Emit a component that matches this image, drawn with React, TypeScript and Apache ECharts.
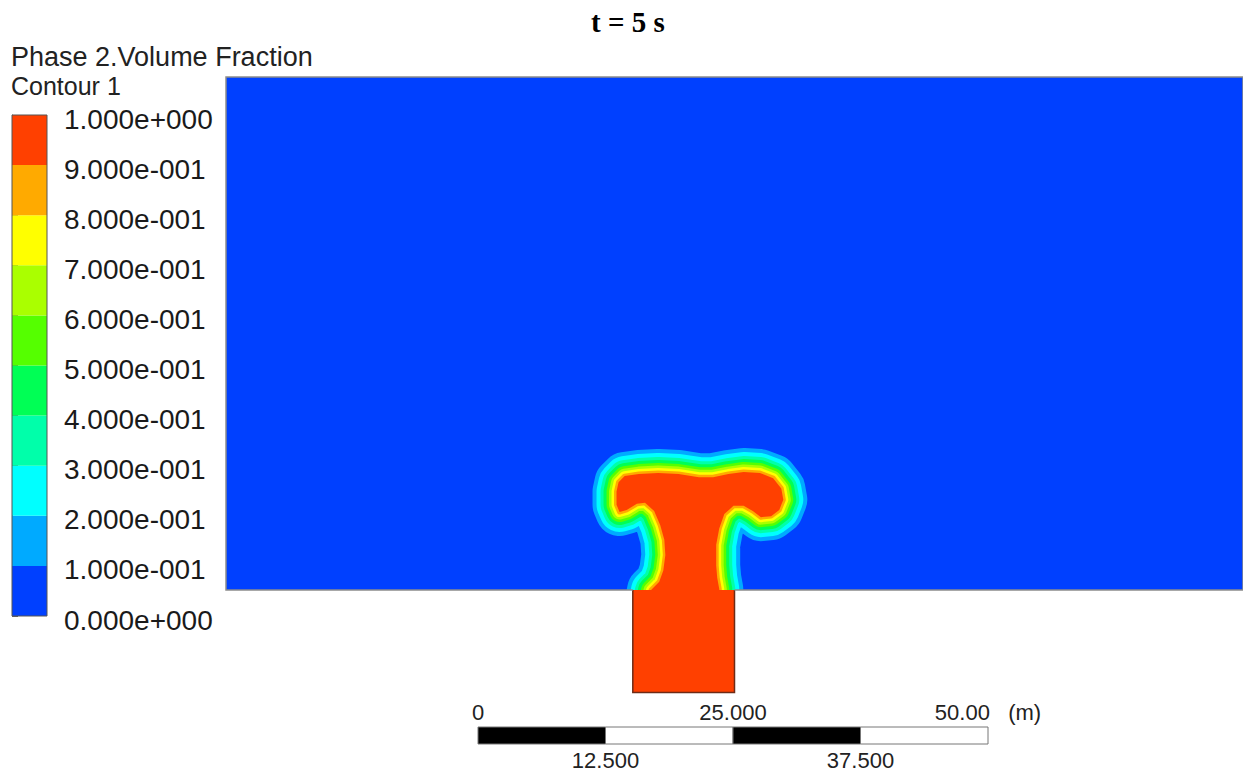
import React, { useEffect, useRef } from "react";
import * as echarts from "echarts";

// ---- texts ----
const TITLE = "t = 5 s";
const LEGEND_TITLE = "Phase 2.Volume Fraction";
const LEGEND_SUBTITLE = "Contour 1";

// ---- contour levels & colours ----
const LEVELS = [0, 0.1, 0.2, 0.3, 0.4, 0.5, 0.6, 0.7, 0.8, 0.9, 1.0];
const BAND_COLORS = [
  "#0040ff", "#00aaff", "#00ffff", "#00ffaa", "#00ff55",
  "#55ff00", "#aaff00", "#ffff00", "#ffaa00", "#ff4000",
];

// ---- geometry (metres) ----
const DOMAIN_X = [0, 100];
const DOMAIN_Y = [0, 50];
const STEM_X = [40, 50];
const STEM_DEPTH = 10;

// 0.9 iso-line of the phase-2 plume (metres)
const CORE_X = [
  41.4, 41.8, 42.6, 43.0, 43.2, 43.1, 42.7, 42.1, 41.2, 40.4,
  39.4, 38.7, 38.4, 38.4, 38.6, 39.2, 40.6, 42.5, 44.5, 46.5,
  47.9, 49.4, 50.9, 52.5, 53.8, 54.6, 54.8, 54.4, 53.6, 52.6,
  51.8, 50.9, 49.9, 49.0, 48.5, 48.2, 48.2, 48.3, 48.5, 48.6,
];
const CORE_Y = [
  -2.0, 0.0, 0.8, 1.9, 3.4, 4.9, 6.3, 7.7, 8.5, 8.4,
  7.8, 7.6, 8.3, 9.6, 10.5, 11.1, 11.3, 11.4, 11.3, 11.0,
  11.0, 11.3, 11.5, 11.4, 10.9, 9.9, 8.8, 7.8, 7.2, 7.1,
  7.7, 8.2, 8.2, 7.4, 6.0, 4.4, 2.4, 1.2, 0.1, -2.0,
];

// ---- scale bar ----
const SCALE_EDGES = [0, 12.5, 25, 37.5, 50];
const SCALE_COLORS = ["#000000", "#ffffff", "#000000", "#ffffff"];
const SCALE_TOP_VALUES = [0, 25, 50];
const SCALE_TOP_LABELS = ["0", "25.000", "50.00   (m)"];
const SCALE_BOTTOM_VALUES = [12.5, 37.5];
const SCALE_BOTTOM_LABELS = ["12.500", "37.500"];

const fmtExp = (v: number) => {
  const s = v.toExponential(3);
  const [m, e] = s.split("e");
  const n = parseInt(e, 10);
  return m + "e" + (n < 0 ? "-" : "+") + String(Math.abs(n)).padStart(3, "0");
};

const findLabel = (vals: number[], labels: string[], v: number) => {
  const i = vals.findIndex((x) => Math.abs(x - v) < 1e-6);
  return i >= 0 ? labels[i] : "";
};

export default function App() {
  const ref = useRef<HTMLDivElement>(null);

  useEffect(() => {
    if (!ref.current) return;
    const chart = echarts.init(ref.current, null, { renderer: "svg" });

    // distance (px) that each colour band reaches outside the 0.9 iso-line
    const bandReach = [24, 20, 16, 13, 10, 7.5, 5, 2.5];

    const sans = "Liberation Sans, Arial, sans-serif";

    const option: any = {
      animation: false,
      backgroundColor: "#ffffff",
      title: [
        {
          text: TITLE,
          left: 591,
          top: 7,
          padding: 0,
          textStyle: { fontFamily: "Liberation Serif, Times New Roman, serif", fontWeight: "bold", fontSize: 29, color: "#000" },
        },
        {
          text: LEGEND_TITLE,
          left: 11,
          top: 43,
          padding: 0,
          textStyle: { fontFamily: sans, fontWeight: "normal", fontSize: 27, lineHeight: 27, color: "#222" },
        },
        {
          text: LEGEND_SUBTITLE,
          left: 11,
          top: 73,
          padding: 0,
          textStyle: { fontFamily: sans, fontWeight: "normal", fontSize: 25, lineHeight: 25, color: "#222" },
        },
      ],
      grid: [
        { left: 226, top: 77, width: 1020, height: 513, show: true, backgroundColor: BAND_COLORS[0], borderWidth: 0 },
        { left: 12, top: 115, width: 35, height: 501, show: false },
        { left: 478, top: 727, width: 510, height: 17, show: false },
      ],
      xAxis: [
        { gridIndex: 0, type: "value", min: DOMAIN_X[0], max: DOMAIN_X[1], show: false },
        { gridIndex: 1, type: "value", min: 0, max: 1, show: false },
        {
          gridIndex: 2, type: "value", min: 0, max: 50, interval: 25, position: "top",
          axisLine: { show: false }, axisTick: { show: false }, splitLine: { show: false },
          axisLabel: {
            show: true, margin: 4, showMinLabel: true, showMaxLabel: true,
            fontFamily: sans, fontSize: 22, color: "#222",
            formatter: (v: number) => findLabel(SCALE_TOP_VALUES, SCALE_TOP_LABELS, v),
          },
        },
        {
          gridIndex: 2, type: "value", min: 0, max: 50, interval: 12.5, position: "bottom",
          axisLine: { show: false }, axisTick: { show: false }, splitLine: { show: false },
          axisLabel: {
            show: true, margin: 5, fontFamily: sans, fontSize: 22, color: "#222",
            formatter: (v: number) => findLabel(SCALE_BOTTOM_VALUES, SCALE_BOTTOM_LABELS, v),
          },
        },
      ],
      yAxis: [
        { gridIndex: 0, type: "value", min: DOMAIN_Y[0], max: DOMAIN_Y[1], show: false },
        {
          gridIndex: 1, type: "value", min: 0, max: 1, interval: 0.1, position: "right",
          axisLine: { show: true, lineStyle: { color: "#666", width: 1 } },
          axisTick: { show: true, inside: false, length: 6, lineStyle: { color: "#666" } },
          splitLine: { show: false },
          axisLabel: {
            show: true, margin: 17, fontFamily: sans, fontSize: 28, color: "#1a1a1a",
            verticalAlign: "top", lineHeight: 8,
            formatter: (v: number) => fmtExp(v),
          },
        },
        { gridIndex: 2, type: "value", min: 0, max: 1, show: false },
      ],
      series: [
        // plume bands (clipped to fluid domain)
        {
          type: "custom",
          coordinateSystem: "cartesian2d",
          xAxisIndex: 0,
          yAxisIndex: 0,
          clip: true,
          silent: true,
          data: [[CORE_X[0], CORE_Y[0]]],
          renderItem: (_p: any, api: any) => {
            const pts = CORE_X.map((x, i) => api.coord([x, CORE_Y[i]]));
            const children: any[] = bandReach.map((r, k) => ({
              type: "polyline",
              shape: { points: pts },
              style: { stroke: BAND_COLORS[k + 1], lineWidth: 2 * r, fill: null, lineJoin: "round", lineCap: "round" },
            }));
            children.push({ type: "polygon", shape: { points: pts }, style: { fill: BAND_COLORS[9], stroke: null } });
            return { type: "group", children };
          },
        },
        // inlet stem
        {
          type: "custom",
          coordinateSystem: "cartesian2d",
          xAxisIndex: 0,
          yAxisIndex: 0,
          clip: false,
          silent: true,
          data: [[STEM_X[0], -STEM_DEPTH, STEM_X[1], 0]],
          renderItem: (_p: any, api: any) => {
            const a = api.coord([api.value(0), api.value(3)]);
            const b = api.coord([api.value(2), api.value(1)]);
            return {
              type: "group",
              children: [
                { type: "rect", shape: { x: a[0], y: a[1], width: b[0] - a[0], height: b[1] - a[1] }, style: { fill: BAND_COLORS[9] } },
                {
                  type: "polyline",
                  shape: { points: [[a[0], a[1]], [a[0], b[1]], [b[0], b[1]], [b[0], a[1]]] },
                  style: { stroke: "#6e2b16", lineWidth: 1.5, fill: null },
                },
              ],
            };
          },
        },
        // domain outline
        {
          type: "custom",
          coordinateSystem: "cartesian2d",
          xAxisIndex: 0,
          yAxisIndex: 0,
          clip: false,
          silent: true,
          data: [[DOMAIN_X[0], DOMAIN_Y[0]]],
          renderItem: (_p: any, api: any) => {
            const pts = [
              [STEM_X[0], DOMAIN_Y[0]],
              [DOMAIN_X[0], DOMAIN_Y[0]],
              [DOMAIN_X[0], DOMAIN_Y[1]],
              [DOMAIN_X[1], DOMAIN_Y[1]],
              [DOMAIN_X[1], DOMAIN_Y[0]],
              [STEM_X[1], DOMAIN_Y[0]],
            ].map((p) => api.coord(p));
            return { type: "polyline", shape: { points: pts }, style: { stroke: "#8c8c8c", lineWidth: 1.5, fill: null } };
          },
        },
        // legend colour bar
        {
          type: "custom",
          coordinateSystem: "cartesian2d",
          xAxisIndex: 1,
          yAxisIndex: 1,
          silent: true,
          data: LEVELS.slice(0, -1).map((lo, i) => [i, lo, LEVELS[i + 1]]),
          renderItem: (_p: any, api: any) => {
            const i = api.value(0);
            const a = api.coord([0, api.value(2)]);
            const b = api.coord([1, api.value(1)]);
            return {
              type: "rect",
              shape: { x: a[0], y: a[1], width: b[0] - a[0], height: b[1] - a[1] },
              style: { fill: BAND_COLORS[i], stroke: null },
            };
          },
        },
        {
          type: "custom",
          coordinateSystem: "cartesian2d",
          xAxisIndex: 1,
          yAxisIndex: 1,
          silent: true,
          z: 5,
          data: [[0, LEVELS[0], 1, LEVELS[LEVELS.length - 1]]],
          renderItem: (_p: any, api: any) => {
            const a = api.coord([api.value(0), api.value(3)]);
            const b = api.coord([api.value(2), api.value(1)]);
            return {
              type: "rect",
              shape: { x: a[0], y: a[1], width: b[0] - a[0], height: b[1] - a[1] },
              style: { fill: null, stroke: "#555", lineWidth: 1 },
            };
          },
        },
        // scale bar
        {
          type: "custom",
          coordinateSystem: "cartesian2d",
          xAxisIndex: 2,
          yAxisIndex: 2,
          silent: true,
          data: SCALE_EDGES.slice(0, -1).map((lo, i) => [i, lo, SCALE_EDGES[i + 1]]),
          renderItem: (_p: any, api: any) => {
            const i = api.value(0);
            const a = api.coord([api.value(1), 1]);
            const b = api.coord([api.value(2), 0]);
            return {
              type: "rect",
              shape: { x: a[0], y: a[1], width: b[0] - a[0], height: b[1] - a[1] },
              style: { fill: SCALE_COLORS[i], stroke: "#777", lineWidth: 1 },
            };
          },
        },
      ],
    };

    chart.setOption(option);
    return () => chart.dispose();
  }, []);

  return (
    <div
      ref={ref}
      style={{ position: "absolute", left: 0, top: 0, width: 1243, height: 772, background: "#fff" }}
    />
  );
}
